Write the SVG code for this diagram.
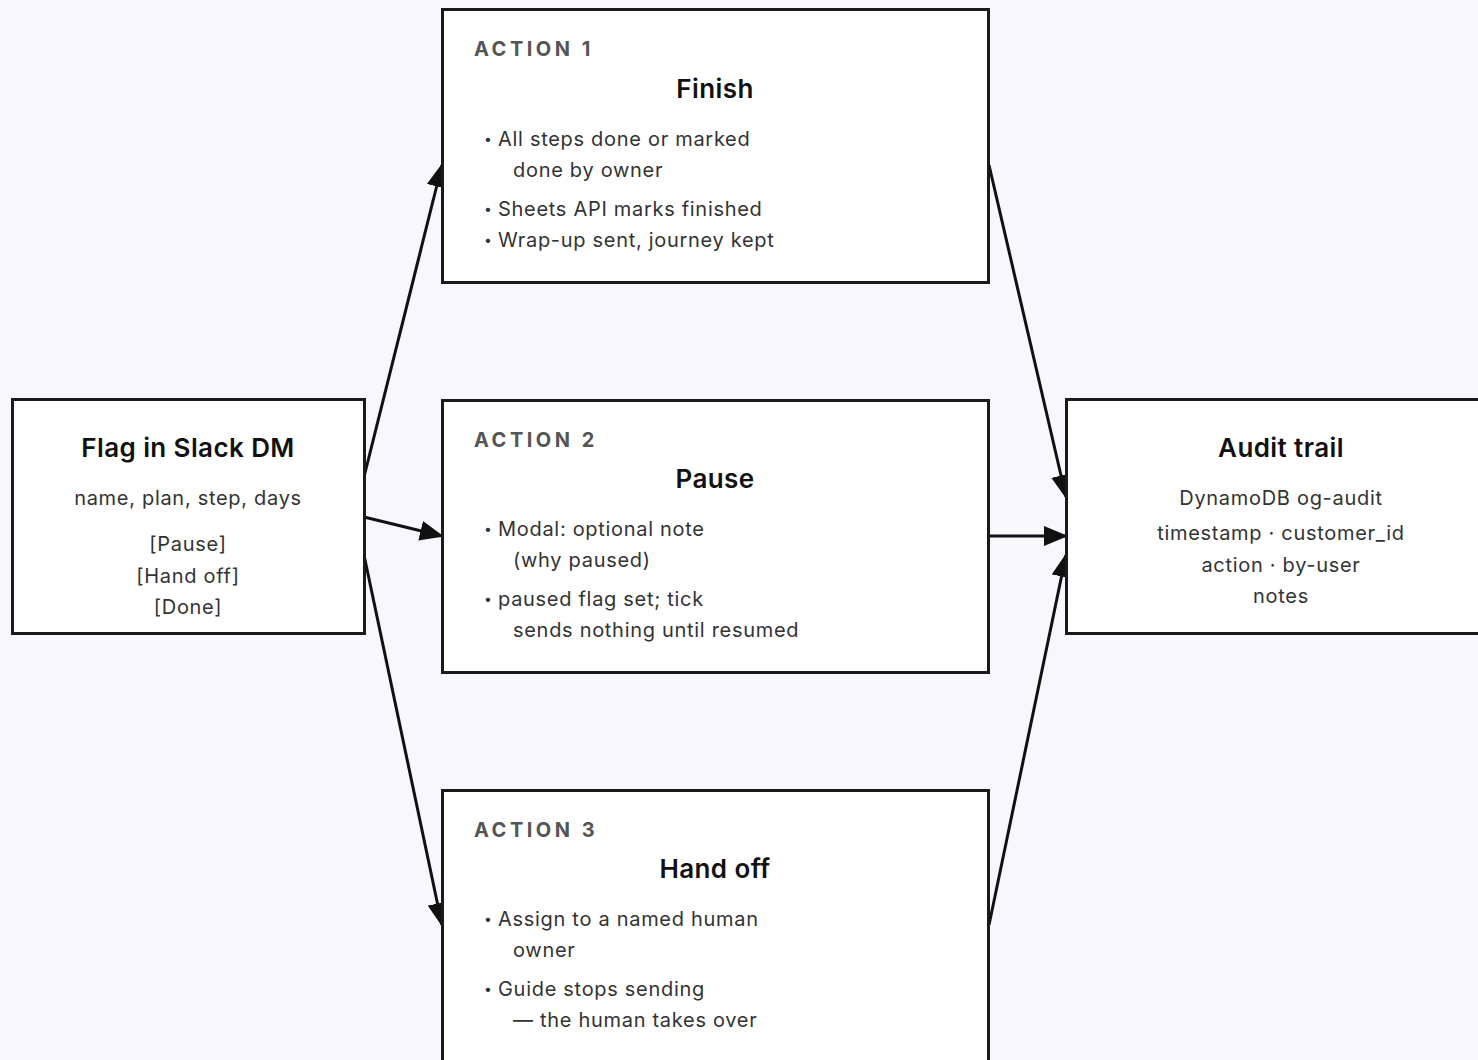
<svg xmlns="http://www.w3.org/2000/svg" width="1478" height="1060" viewBox="0 0 1478 1060">
<style>
.box{fill:#ffffff;stroke:#1a1a1a;stroke-width:3}
.lbl{font-family:Inter,"Noto Sans","DejaVu Sans",sans-serif;font-size:20px;font-weight:700;letter-spacing:3.5px;fill:#555555}
.ttl{font-family:Inter,"Noto Sans","DejaVu Sans",sans-serif;font-size:26px;font-weight:600;letter-spacing:0.4px;fill:#111111;text-anchor:middle}
.txt{font-family:Inter,"Noto Sans","DejaVu Sans",sans-serif;font-size:20px;letter-spacing:0.7px;fill:#333333}
.dot{font-family:Inter,"Noto Sans","DejaVu Sans",sans-serif;font-size:14px;fill:#333333}
.ctr{text-anchor:middle}
.edge{stroke:#111111;stroke-width:3;fill:none;marker-end:url(#arr)}
</style>
<defs>
<marker id="arr" markerUnits="userSpaceOnUse" markerWidth="24" markerHeight="20" refX="22" refY="10" orient="auto">
<path d="M0,0 L24,10 L0,20 Z" fill="#111111"/>
</marker>
</defs>
<rect x="0" y="0" width="1478" height="1060" fill="#f8f7fd"/>
<g id="connectors">
<line class="edge" x1="364" y1="477" x2="442" y2="165"/>
<line class="edge" x1="364" y1="517" x2="442" y2="536"/>
<line class="edge" x1="364" y1="555" x2="442" y2="925"/>
<line class="edge" x1="989" y1="165" x2="1066" y2="497"/>
<line class="edge" x1="989" y1="536" x2="1066" y2="536"/>
<line class="edge" x1="989" y1="925" x2="1066" y2="555"/>
</g>
<g id="flag">
<rect class="box" x="12.5" y="399.5" width="352" height="234"/>
<text class="ttl" x="188" y="457">Flag in Slack DM</text>
<text class="txt ctr" x="188" y="505">name, plan, step, days</text>
<text class="txt ctr" x="188" y="551">[Pause]</text>
<text class="txt ctr" x="188" y="583">[Hand off]</text>
<text class="txt ctr" x="188" y="614">[Done]</text>
</g>
<g id="action1">
<rect class="box" x="442.5" y="9.5" width="546" height="273"/>
<text class="lbl" x="474" y="56">ACTION 1</text>
<text class="ttl" x="715" y="98">Finish</text>
<text class="dot" x="484" y="144">•</text><text class="txt" x="498" y="146">All steps done or marked</text>
<text class="txt" x="513" y="177">done by owner</text>
<text class="dot" x="484" y="214">•</text><text class="txt" x="498" y="216">Sheets API marks finished</text>
<text class="dot" x="484" y="245">•</text><text class="txt" x="498" y="247">Wrap-up sent, journey kept</text>
</g>
<g id="action2">
<rect class="box" x="442.5" y="400.5" width="546" height="272"/>
<text class="lbl" x="474" y="447">ACTION 2</text>
<text class="ttl" x="715" y="488">Pause</text>
<text class="dot" x="484" y="534">•</text><text class="txt" x="498" y="536">Modal: optional note</text>
<text class="txt" x="513" y="567">(why paused)</text>
<text class="dot" x="484" y="604">•</text><text class="txt" x="498" y="606">paused flag set; tick</text>
<text class="txt" x="513" y="637">sends nothing until resumed</text>
</g>
<g id="action3">
<rect class="box" x="442.5" y="790.5" width="546" height="273"/>
<text class="lbl" x="474" y="837">ACTION 3</text>
<text class="ttl" x="715" y="878">Hand off</text>
<text class="dot" x="484" y="924">•</text><text class="txt" x="498" y="926">Assign to a named human</text>
<text class="txt" x="513" y="957">owner</text>
<text class="dot" x="484" y="994">•</text><text class="txt" x="498" y="996">Guide stops sending</text>
<text class="txt" x="513" y="1027">— the human takes over</text>
</g>
<g id="audit">
<rect class="box" x="1066.5" y="399.5" width="430" height="234"/>
<text class="ttl" x="1281" y="457">Audit trail</text>
<text class="txt ctr" x="1281" y="505">DynamoDB og-audit</text>
<text class="txt ctr" x="1281" y="540">timestamp · customer_id</text>
<text class="txt ctr" x="1281" y="572">action · by-user</text>
<text class="txt ctr" x="1281" y="603">notes</text>
</g>
</svg>
